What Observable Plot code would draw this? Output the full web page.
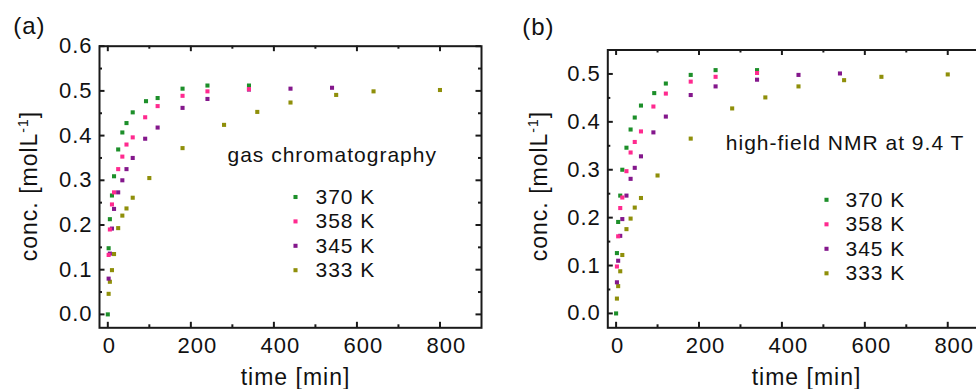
<!DOCTYPE html>
<html>
<head>
<meta charset="utf-8">
<script src="https://cdn.jsdelivr.net/npm/d3@7"></script>
<script src="https://cdn.jsdelivr.net/npm/@observablehq/plot@0.6"></script>
<style>
  html, body { margin:0; padding:0; background:#fff; }
  #wrap { position:relative; width:976px; height:389px; overflow:hidden; }
  .panel { position:absolute; top:0; }
</style>
</head>
<body>
<div id="wrap"></div>
<script>
// ---- series ----
const series = ["370 K", "358 K", "345 K", "333 K"];
const seriesColors = ["#1d8f2a", "#ff2a8f", "#84178c", "#8f8f0a"];
const drawOrder = ["333 K", "345 K", "370 K", "358 K"];

// ---- axis ticks ----
const xMajor = [0, 200, 400, 600, 800];
const xMinor = [100, 300, 500, 700];
const yMajorA = [0, 0.1, 0.2, 0.3, 0.4, 0.5, 0.6];
const yMinorA = [0.05, 0.15, 0.25, 0.35, 0.45, 0.55];
const yMajorB = [0, 0.1, 0.2, 0.3, 0.4, 0.5];
const yMinorB = [0.05, 0.15, 0.25, 0.35, 0.45];

// ---- (a) gas chromatography ----
const gcTime370 = [0, 2, 5, 10, 15, 25, 35, 45, 60, 92, 120, 180, 240, 340];
const gcConc370 = [0, 0.148, 0.213, 0.266, 0.309, 0.369, 0.407, 0.428, 0.452, 0.477, 0.484, 0.505, 0.512, 0.512];
const gcTime358 = [2, 5, 10, 15, 25, 35, 45, 60, 90, 120, 180, 240, 340];
const gcConc358 = [0.133, 0.19, 0.246, 0.273, 0.325, 0.353, 0.38, 0.396, 0.441, 0.466, 0.489, 0.499, 0.504];
const gcTime345 = [2, 5, 10, 15, 25, 35, 45, 60, 90, 120, 180, 240, 340, 440, 540];
const gcConc345 = [0.08, 0.136, 0.192, 0.236, 0.273, 0.3, 0.325, 0.35, 0.393, 0.418, 0.462, 0.482, 0.503, 0.505, 0.507];
const gcTime333 = [2, 5, 10, 15, 25, 35, 45, 60, 100, 180, 280, 360, 440, 550, 640, 800];
const gcConc333 = [0.046, 0.073, 0.099, 0.135, 0.193, 0.221, 0.237, 0.261, 0.305, 0.372, 0.424, 0.453, 0.474, 0.491, 0.499, 0.502];

// ---- (b) high-field NMR ----
const nmrTime370 = [0, 2, 5, 10, 15, 25, 35, 45, 60, 92, 120, 180, 240, 340];
const nmrConc370 = [0, 0.126, 0.191, 0.246, 0.3, 0.346, 0.384, 0.409, 0.434, 0.46, 0.48, 0.498, 0.508, 0.508];
const nmrTime358 = [2, 5, 10, 15, 25, 35, 45, 60, 90, 120, 180, 240, 340];
const nmrConc358 = [0.098, 0.161, 0.22, 0.242, 0.297, 0.336, 0.358, 0.38, 0.432, 0.459, 0.484, 0.494, 0.502];
const nmrTime345 = [2, 5, 10, 15, 25, 35, 45, 60, 90, 120, 180, 240, 340, 440, 540];
const nmrConc345 = [0.065, 0.11, 0.162, 0.197, 0.246, 0.281, 0.304, 0.328, 0.378, 0.411, 0.456, 0.474, 0.488, 0.498, 0.501];
const nmrTime333 = [2, 5, 10, 15, 25, 35, 45, 60, 100, 180, 280, 360, 440, 550, 640, 800];
const nmrConc333 = [0.031, 0.057, 0.088, 0.122, 0.176, 0.198, 0.221, 0.241, 0.288, 0.365, 0.428, 0.451, 0.474, 0.487, 0.494, 0.499];

// ---- text ----
const tagA = "(a)", tagB = "(b)";
const noteA = "gas chromatography";
const noteB = "high-field NMR at 9.4 T";
const xTitle = "time [min]";
const yTitleMain = "conc. [molL", yTitleSup = "-1", yTitleEnd = "]";

function rows(times, concs, s) { return times.map((t, i) => ({t, c: concs[i], s})); }
const gcSets = {"370 K": [gcTime370, gcConc370], "358 K": [gcTime358, gcConc358], "345 K": [gcTime345, gcConc345], "333 K": [gcTime333, gcConc333]};
const nmrSets = {"370 K": [nmrTime370, nmrConc370], "358 K": [nmrTime358, nmrConc358], "345 K": [nmrTime345, nmrConc345], "333 K": [nmrTime333, nmrConc333]};
const gcData = drawOrder.flatMap(s => rows(gcSets[s][0], gcSets[s][1], s));
const nmrData = drawOrder.flatMap(s => rows(nmrSets[s][0], nmrSets[s][1], s));

const INK = "#111";
const FONT = '"Liberation Sans", Arial, Helvetica, sans-serif';
const HEIGHT = 389;

function panel(o) {
  const W = o.width - o.mLeft - o.mRight;
  const H = HEIGHT - o.mTop - o.mBottom;
  const major = 5.5, minor = 3;
  const tickStyle = {stroke: "#1a1a1a", strokeWidth: 2};
  const marks = [
    // inward ticks on all four sides
    Plot.tickX(xMajor, {x: d => d, insetTop: H - major, ...tickStyle}),
    Plot.tickX(xMajor, {x: d => d, insetBottom: H - major, ...tickStyle}),
    Plot.tickX(xMinor, {x: d => d, insetTop: H - minor, ...tickStyle}),
    Plot.tickX(xMinor, {x: d => d, insetBottom: H - minor, ...tickStyle}),
    Plot.tickY(o.yMajor, {y: d => d, insetRight: W - major, ...tickStyle}),
    Plot.tickY(o.yMajor, {y: d => d, insetLeft: W - major, ...tickStyle}),
    Plot.tickY(o.yMinor, {y: d => d, insetRight: W - minor, ...tickStyle}),
    Plot.tickY(o.yMinor, {y: d => d, insetLeft: W - minor, ...tickStyle}),
    Plot.frame({stroke: "#1a1a1a", strokeWidth: 2}),
    // tick labels
    Plot.axisX({ticks: [0], tickSize: 0, tickPadding: 10, dx: 1.5, label: null, fill: INK}),
    Plot.axisX({ticks: xMajor.slice(1), tickSize: 0, tickPadding: 10, dx: 6.5, label: null, fill: INK}),
    Plot.axisY({ticks: o.yMajor, tickSize: 0, tickPadding: 7, tickFormat: d3.format(".1f"), label: null, fill: INK}),
    // data
    Plot.dot(o.data, {x: "t", y: "c", fill: "s", symbol: "square", r: 2.3}),
    // annotation
    Plot.text([o.note], {frameAnchor: "top-left", dx: o.noteDx, dy: o.noteDy, textAnchor: "start", lineAnchor: "middle", fontSize: 21, fill: INK}),
    Plot.text([o.tag], {frameAnchor: "top-left", dx: o.tagDx, dy: o.tagDy, textAnchor: "start", lineAnchor: "middle", fontSize: 24, fill: INK}),
    Plot.text([xTitle], {frameAnchor: "bottom", dx: o.titleDx, dy: 50.3, textAnchor: "middle", lineAnchor: "middle", fontSize: 23, fill: INK}),
  ];
  series.forEach((s, i) => {
    const dy = o.legDy + i * o.legStep;
    marks.push(Plot.dot([s], {frameAnchor: "top-left", dx: o.legDx, dy, fill: seriesColors[i], symbol: "square", r: 2.3}));
    marks.push(Plot.text([s], {frameAnchor: "top-left", dx: o.legTextDx, dy, textAnchor: "start", lineAnchor: "middle", fontSize: 21, fill: INK}));
  });
  const svg = Plot.plot({
    width: o.width, height: HEIGHT,
    marginLeft: o.mLeft, marginRight: o.mRight, marginTop: o.mTop, marginBottom: o.mBottom,
    x: {domain: [-20, 900]},
    y: {domain: o.yDomain},
    color: {domain: series, range: seriesColors},
    style: {fontFamily: FONT, fontSize: "22px", letterSpacing: "1px", color: INK, background: "transparent", overflow: "visible"},
    marks
  });
  // y-axis title with superscript
  const t = d3.select(svg).append("text")
    .attr("transform", `translate(${o.yTitleX},${o.yTitleY}) rotate(-90)`)
    .attr("text-anchor", "middle")
    .attr("font-size", 23)
    .attr("fill", INK);
  t.append("tspan").text(yTitleMain);
  t.append("tspan").attr("font-size", 14).attr("dy", -9).text(yTitleSup);
  t.append("tspan").attr("dy", 9).text(yTitleEnd);
  svg.classList.add("panel");
  svg.style.left = o.left + "px";
  return svg;
}

const wrap = document.getElementById("wrap");
wrap.appendChild(panel({
  left: 0, width: 490, mLeft: 99, mRight: 9, mTop: 45.7, mBottom: 61.7,
  yDomain: [-0.03, 0.6], yMajor: yMajorA, yMinor: yMinorA, data: gcData,
  note: noteA, noteDx: 128, noteDy: 108.6,
  tag: tagA, tagDx: -86.3, tagDy: -19.9,
  legDx: 196, legTextDx: 216, legDy: 150.8, legStep: 24.4,
  titleDx: 5, yTitleX: 36.7, yTitleY: 186
}));
wrap.appendChild(panel({
  left: 490, width: 510, mLeft: 117.3, mRight: 11.3, mTop: 49.5, mBottom: 61.7,
  yDomain: [-0.03, 0.55], yMajor: yMajorB, yMinor: yMinorB, data: nmrData,
  note: noteB, noteDx: 118, noteDy: 92.8,
  tag: tagB, tagDx: -85.6, tagDy: -22.2,
  legDx: 218.7, legTextDx: 237.7, legDy: 149.8, legStep: 24.5,
  titleDx: 8, yTitleX: 56.7, yTitleY: 186
}));
</script>
</body>
</html>
